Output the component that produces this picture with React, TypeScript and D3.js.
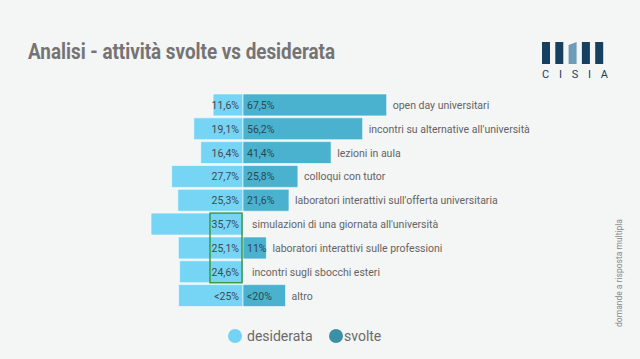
import React, { useEffect, useRef } from "react";
import * as d3 from "d3";

const categories = [
  "open day universitari",
  "incontri su alternative all'università",
  "lezioni in aula",
  "colloqui con tutor",
  "laboratori interattivi sull'offerta universitaria",
  "simulazioni di una giornata all'università",
  "laboratori interattivi sulle professioni",
  "incontri sugli sbocchi esteri",
  "altro",
];

// desiderata (left) and svolte (right), in %
const desiderata = [11.6, 19.1, 16.4, 27.7, 25.3, 35.7, 25.1, 24.6, 25];
const desiderataLabels = ["11,6%", "19,1%", "16,4%", "27,7%", "25,3%", "35,7%", "25,1%", "24,6%", "<25%"];
const svolte = [67.5, 56.2, 41.4, 25.8, 21.6, 0, 11, 0, 20];
const svolteLabels = ["67,5%", "56,2%", "41,4%", "25,8%", "21,6%", "", "11%", "", "<20%"];

// rows highlighted by the green box
const highlighted = [
  "simulazioni di una giornata all'università",
  "laboratori interattivi sulle professioni",
  "incontri sugli sbocchi esteri",
];

const legendItems = ["desiderata", "svolte"];

const W = 640;
const H = 359;
const FONT = "Roboto, 'Noto Sans', sans-serif";
const LIGHT = "#76d4f5";
const DARK = "#4ab2ce";

const App = () => {
  const svgEl = useRef<SVGSVGElement | null>(null);

  useEffect(() => {
    if (!svgEl.current) return;
    drawChartOn(svgEl.current);
  }, [svgEl]);

  return (
    <svg
      ref={svgEl}
      width={W}
      height={H}
      style={{ position: "fixed", left: 0, top: 0, display: "block" }}
    ></svg>
  );
};

function drawChartOn(svgEl: SVGSVGElement) {
  const svg = d3.select(svgEl);
  svg.selectAll("*").remove();

  svg.append("rect").attr("width", W).attr("height", H).attr("fill", "#f4f5f5");

  // title
  svg
    .append("text")
    .attr("x", 28)
    .attr("y", 59)
    .attr("font-family", FONT)
    .attr("font-size", 22)
    .attr("font-weight", "bold")
    .attr("fill", "#747474")
    .attr("textLength", 307)
    .attr("lengthAdjust", "spacingAndGlyphs")
    .text("Analisi - attività svolte vs desiderata");

  // logo
  const logo = svg.append("g").attr("transform", "translate(542,42)");
  [0, 13.3, 26.6, 39.9, 53.2].forEach((dx, i) => {
    if (i === 2) {
      logo
        .append("path")
        .attr("d", `M${dx},3 L${dx + 8},0 L${dx + 8},22 L${dx},22 Z`)
        .attr("fill", "#6c9cb8");
    } else {
      logo.append("rect").attr("x", dx).attr("y", 0).attr("width", 8).attr("height", 22).attr("fill", "#173f60");
    }
  });
  logo
    .append("text")
    .attr("x", 0)
    .attr("y", 36)
    .attr("font-family", FONT)
    .attr("font-size", 11)
    .attr("fill", "#173f60")
    .attr("textLength", 66)
    .attr("lengthAdjust", "spacing")
    .text("CISIA");

  const center = 243;
  const yScale = d3
    .scaleBand()
    .domain(categories)
    .range([93, 307.5])
    .paddingInner(0.08)
    .paddingOuter(0.04);
  const xLeft = d3.scaleLinear().domain([0, 35.7]).range([center, 151]);
  const xRight = d3.scaleLinear().domain([0, 67.5]).range([center, 386.7]);

  const rows = categories.map((c, i) => ({
    cat: c,
    des: desiderata[i],
    desLabel: desiderataLabels[i],
    svo: svolte[i],
    svoLabel: svolteLabels[i],
  }));

  const g = svg.append("g");

  g.selectAll(".bar-des")
    .data(rows)
    .enter()
    .append("rect")
    .attr("x", (d) => xLeft(d.des))
    .attr("y", (d) => yScale(d.cat)!)
    .attr("width", (d) => center - xLeft(d.des))
    .attr("height", yScale.bandwidth())
    .attr("rx", 1)
    .attr("fill", LIGHT)
    .attr("stroke", "rgba(255,255,255,0.6)")
    .attr("stroke-width", 1);

  g.selectAll(".bar-svo")
    .data(rows.filter((d) => d.svo > 0))
    .enter()
    .append("rect")
    .attr("x", center)
    .attr("y", (d) => yScale(d.cat)!)
    .attr("width", (d) => xRight(d.svo) - center)
    .attr("height", yScale.bandwidth())
    .attr("rx", 1)
    .attr("fill", DARK)
    .attr("stroke", "rgba(255,255,255,0.6)")
    .attr("stroke-width", 1);

  const mid = (d: { cat: string }) => yScale(d.cat)! + yScale.bandwidth() / 2 + 4;

  g.selectAll(".lab-des")
    .data(rows)
    .enter()
    .append("text")
    .attr("x", center - 4)
    .attr("y", mid)
    .attr("text-anchor", "end")
    .attr("font-family", FONT)
    .attr("font-size", 10.5)
    .attr("fill", "#3d4a50")
    .text((d) => d.desLabel);

  g.selectAll(".lab-svo")
    .data(rows.filter((d) => d.svoLabel))
    .enter()
    .append("text")
    .attr("x", center + 4)
    .attr("y", mid)
    .attr("font-family", FONT)
    .attr("font-size", 10.5)
    .attr("fill", "#2f4650")
    .text((d) => d.svoLabel);

  g.selectAll(".lab-cat")
    .data(rows)
    .enter()
    .append("text")
    .attr("x", (d) => (d.svo > 0 ? xRight(d.svo) + 6 : center + 9))
    .attr("y", mid)
    .attr("font-family", FONT)
    .attr("font-size", 10.5)
    .attr("fill", "#646464")
    .text((d) => d.cat);

  // green highlight box
  const boxTop = yScale(highlighted[0])!;
  const boxBottom = yScale(highlighted[highlighted.length - 1])! + yScale.bandwidth();
  svg
    .append("rect")
    .attr("x", 210)
    .attr("y", boxTop)
    .attr("width", center - 1 - 210)
    .attr("height", boxBottom - boxTop)
    .attr("fill", "none")
    .attr("stroke", "#3f9a42")
    .attr("stroke-width", 1.5);

  // legend
  const legendX = d3.scaleOrdinal<string, number>().domain(legendItems).range([235, 336]);
  const legendC = d3.scaleOrdinal<string, string>().domain(legendItems).range(["#72d3f5", "#3b8fa7"]);
  const lg = svg.append("g");
  legendItems.forEach((k) => {
    lg.append("circle").attr("cx", legendX(k)).attr("cy", 336).attr("r", 7).attr("fill", legendC(k));
    lg.append("text")
      .attr("x", legendX(k) + (k === "svolte" ? 8 : 12))
      .attr("y", 341)
      .attr("font-family", FONT)
      .attr("font-size", 14)
      .attr("fill", "#6a6a6a")
      .text(k);
  });

  // side note
  svg
    .append("text")
    .attr("transform", "translate(622,273) rotate(-90)")
    .attr("text-anchor", "middle")
    .attr("font-family", FONT)
    .attr("font-size", 8.5)
    .attr("fill", "#8a8a8a")
    .text("domande a risposta multipla");
}

export default App;
